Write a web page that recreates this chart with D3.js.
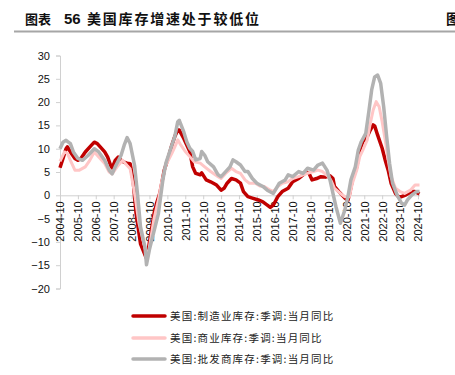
<!DOCTYPE html>
<html>
<head>
<meta charset="utf-8">
<script src="https://cdn.jsdelivr.net/npm/d3@7"></script>
<style>
    body { margin: 0; background: #fff; }
    svg { display: block; }
</style>
</head>
<body>
<script>
// 美国:制造业库存:季调:当月同比
var manuData = [
    ["2004-10", 5.9], ["2004-12", 7.9], ["2005-02", 10], ["2005-03", 10.4], ["2005-05", 9.3],
    ["2005-08", 7.9], ["2005-10", 7.5], ["2005-12", 7.9], ["2006-03", 9.3], ["2006-07", 10.7],
    ["2006-09", 11.4], ["2006-11", 11.1], ["2007-02", 10], ["2007-04", 9.3], ["2007-06", 8.2],
    ["2007-08", 6.4], ["2007-09", 5.9], ["2007-11", 7.5], ["2008-01", 8.2], ["2008-03", 7.5],
    ["2008-05", 7.1], ["2008-07", 6.9], ["2008-09", 6.8], ["2008-11", 3.2], ["2009-01", -3.9],
    ["2009-04", -10.4], ["2009-07", -12.8], ["2009-08", -13.5], ["2009-09", -12], ["2009-11", -8],
    ["2010-01", -4], ["2010-03", -1.5], ["2010-05", 0.5], ["2010-08", 5.5], ["2010-11", 8.5],
    ["2011-01", 10.8], ["2011-03", 12.6], ["2011-05", 14], ["2011-06", 14], ["2011-09", 12.2],
    ["2011-11", 10.8], ["2012-01", 9.4], ["2012-03", 6.1], ["2012-05", 4.7], ["2012-08", 4.4],
    ["2012-09", 4.8], ["2012-12", 3.3], ["2013-03", 2.9], ["2013-07", 2.2], ["2013-10", 1.1],
    ["2013-12", 1.5], ["2014-02", 2.6], ["2014-05", 3.6], ["2014-08", 3.3], ["2014-11", 2.6],
    ["2015-01", 0.8], ["2015-04", -0.3], ["2015-07", -0.6], ["2015-11", -1], ["2016-02", -1.4],
    ["2016-05", -2.1], ["2016-07", -2.6], ["2016-09", -2.1], ["2016-12", -0.3], ["2017-03", 0.8],
    ["2017-07", 1.5], ["2017-10", 2.9], ["2018-02", 3.6], ["2018-05", 4.4], ["2018-07", 4.9],
    ["2018-09", 4.7], ["2018-11", 3.3], ["2019-02", 3.6], ["2019-05", 4], ["2019-08", 3.9],
    ["2019-11", 4.2], ["2020-01", 3.6], ["2020-02", 1.9], ["2020-05", 0.8], ["2020-07", 0.1],
    ["2020-09", -0.6], ["2020-11", -1.1], ["2020-12", 0.1], ["2021-02", 3.3], ["2021-05", 6.1],
    ["2021-07", 9.7], ["2021-09", 11.5], ["2021-12", 12.6], ["2022-02", 14], ["2022-04", 15.1],
    ["2022-05", 14.9], ["2022-07", 12.9], ["2022-10", 10.1], ["2022-12", 7.6], ["2023-02", 5.4],
    ["2023-04", 2.6], ["2023-07", 0.4], ["2023-09", -0.3], ["2023-11", -0.3], ["2024-02", 0.1],
    ["2024-06", 0.8], ["2024-08", 0.8], ["2024-11", 0.3]
]

// 美国:商业库存:季调:当月同比
var tradeData = [
    ["2004-10", 7.3], ["2005-01", 9.3], ["2005-03", 9], ["2005-05", 7.5], ["2005-08", 5.4],
    ["2005-11", 5.4], ["2006-03", 6.1], ["2006-06", 7.5], ["2006-09", 9.3], ["2006-12", 8.2],
    ["2007-04", 6.8], ["2007-07", 5], ["2007-09", 4.6], ["2008-01", 6.4], ["2008-04", 7.5],
    ["2008-07", 6.4], ["2008-09", 5.7], ["2008-12", 0.4], ["2009-03", -6], ["2009-07", -11.4],
    ["2009-09", -12.9], ["2009-11", -9], ["2010-01", -5], ["2010-04", -1], ["2010-06", 2.6],
    ["2010-09", 6.5], ["2011-01", 9], ["2011-04", 11.1], ["2011-05", 11.9], ["2011-07", 10.8],
    ["2011-10", 9.4], ["2012-01", 8.3], ["2012-04", 7.2], ["2012-08", 6.9], ["2012-11", 6.1],
    ["2013-03", 5.1], ["2013-08", 4], ["2013-10", 3.6], ["2014-01", 4.7], ["2014-05", 5.8],
    ["2014-08", 5.1], ["2014-11", 4.7], ["2015-02", 3.3], ["2015-05", 2.6], ["2015-09", 2.6],
    ["2015-12", 2], ["2016-03", 1.9], ["2016-07", 1.1], ["2016-09", 0.8], ["2016-12", 1.9],
    ["2017-03", 2.6], ["2017-07", 2.9], ["2017-10", 3.6], ["2018-02", 4], ["2018-05", 4.4],
    ["2018-08", 4.7], ["2018-12", 5.1], ["2019-03", 5.4], ["2019-06", 5.1], ["2019-10", 4],
    ["2019-12", 3], ["2020-02", 1.5], ["2020-06", 0.4], ["2020-09", -0.3], ["2020-12", -0.3],
    ["2021-02", 2.6], ["2021-05", 5.4], ["2021-07", 8.3], ["2021-09", 9.7], ["2021-12", 11.9],
    ["2022-02", 15.4], ["2022-04", 18.3], ["2022-06", 20.1], ["2022-08", 19], ["2022-10", 15.8],
    ["2022-12", 11.9], ["2023-02", 7.6], ["2023-04", 4], ["2023-07", 1.5], ["2023-10", 0.8],
    ["2024-01", 0.4], ["2024-05", 1.1], ["2024-08", 2.2], ["2024-11", 2.2]
]

// 美国:批发商库存:季调:当月同比
var wholesaleData = [
    ["2004-10", 10], ["2004-12", 11.4], ["2005-02", 11.8], ["2005-05", 11.1], ["2005-07", 9.3],
    ["2005-10", 7.9], ["2006-01", 7.5], ["2006-05", 8.6], ["2006-09", 10], ["2006-12", 9.3],
    ["2007-04", 7.5], ["2007-07", 5.4], ["2007-09", 4.6], ["2007-11", 6.1], ["2008-03", 8.6],
    ["2008-05", 10.7], ["2008-07", 12.4], ["2008-09", 11.1], ["2008-12", 6.4], ["2009-02", 0],
    ["2009-04", -6.8], ["2009-07", -11.1], ["2009-08", -14.9], ["2009-10", -11.6], ["2010-04", -3.9],
    ["2010-07", 3.3], ["2010-09", 6.9], ["2011-01", 10.8], ["2011-03", 12.6], ["2011-05", 15.8],
    ["2011-06", 16.1], ["2011-09", 13.6], ["2011-11", 11.5], ["2012-01", 10.1], ["2012-03", 9.4],
    ["2012-05", 7.6], ["2012-08", 7.9], ["2012-09", 9.4], ["2012-11", 8.6], ["2013-01", 7.2],
    ["2013-05", 6.1], ["2013-08", 4.4], ["2013-10", 4], ["2013-12", 4.7], ["2014-04", 6.1],
    ["2014-06", 7.6], ["2014-08", 7.2], ["2014-11", 6.5], ["2015-02", 5.1], ["2015-04", 5.1],
    ["2015-07", 3.6], ["2015-10", 2.6], ["2016-02", 1.9], ["2016-05", 1.1], ["2016-09", 0.4],
    ["2016-11", 1.5], ["2017-01", 2.6], ["2017-05", 3.3], ["2017-07", 4.4], ["2017-10", 4],
    ["2018-02", 5.1], ["2018-05", 4.7], ["2018-08", 5.8], ["2018-12", 5.4], ["2019-03", 6.5],
    ["2019-06", 6.9], ["2019-09", 5.4], ["2019-11", 3.3], ["2020-01", 0.4], ["2020-03", -2.4],
    ["2020-06", -6], ["2020-09", -3.1], ["2020-11", -0.3], ["2021-01", 3.3], ["2021-04", 6.1],
    ["2021-06", 9.7], ["2021-08", 11.5], ["2021-11", 13.3], ["2022-01", 17.9], ["2022-03", 22.6],
    ["2022-05", 25.4], ["2022-07", 25.8], ["2022-09", 24], ["2022-11", 19], ["2023-01", 12.6],
    ["2023-03", 6.9], ["2023-05", 2.6], ["2023-08", 0.1], ["2023-11", -1.7], ["2024-01", -2.1],
    ["2024-03", -1], ["2024-06", 0.1], ["2024-09", 0.8], ["2024-11", 0.8]
]

var xTickLabels = ["2004-10", "2005-10", "2006-10", "2007-10", "2008-10", "2009-10", "2010-10",
    "2011-10", "2012-10", "2013-10", "2014-10", "2015-10", "2016-10", "2017-10", "2018-10",
    "2019-10", "2020-10", "2021-10", "2022-10", "2023-10", "2024-10"]
var yTicks = [-20, -15, -10, -5, 0, 5, 10, 15, 20, 25, 30]

var seriesNames = ["美国:制造业库存:季调:当月同比", "美国:商业库存:季调:当月同比", "美国:批发商库存:季调:当月同比"]
var seriesColors = ["#c00000", "#ffc6c6", "#b2b2b2"]

var W = 455, H = 375
var parse = d3.timeParse("%Y-%m")
var fmt = d3.timeFormat("%Y-%m")

var svg = d3.select("body").append("svg")
    .attr("width", W)
    .attr("height", H)

// title
var title = svg.append("text")
    .attr("y", 24)
    .attr("font-family", "'Noto Sans CJK SC', sans-serif")
    .attr("font-weight", "bold")
    .attr("fill", "#111")
title.append("tspan").attr("x", 25).attr("font-size", 13).text("图表")
title.append("tspan").attr("x", 64).attr("font-size", 15)
    .attr("font-family", "'Liberation Sans', Arial, sans-serif").text("56")
title.append("tspan").attr("x", 87).attr("font-size", 14)
    .attr("letter-spacing", 1.8).text("美国库存增速处于较低位")
svg.append("text")
    .attr("x", 446).attr("y", 24)
    .attr("font-family", "'Noto Sans CJK SC', sans-serif")
    .attr("font-weight", "bold")
    .attr("font-size", 14)
    .attr("fill", "#111")
    .text("图")
svg.append("line")
    .attr("x1", 14).attr("x2", W)
    .attr("y1", 31.5).attr("y2", 31.5)
    .attr("stroke", "#a6a6a6")
    .attr("stroke-width", 2)

// scales
var x = d3.scaleTime()
    .domain([parse("2004-10"), parse("2024-11")])
    .range([60, 419.5])
var y = d3.scaleLinear()
    .domain([-20, 30])
    .range([288.5, 55.5])

var axisColor = "#d0d0d0"

var yAxis = svg.append("g")
    .attr("transform", "translate(60,0)")
    .call(d3.axisLeft(y).tickValues(yTicks).tickSize(4).tickPadding(6))
yAxis.select(".domain").attr("stroke", axisColor)
yAxis.selectAll(".tick line").attr("stroke", axisColor)
yAxis.selectAll("text")
    .attr("font-family", "'Liberation Sans', Arial, sans-serif")
    .attr("font-size", 11)
    .attr("fill", "#111")

var xAxis = svg.append("g")
    .attr("transform", "translate(0," + y(0) + ")")
    .call(d3.axisBottom(x).tickValues(xTickLabels.map(parse)).tickFormat(fmt).tickSize(4).tickSizeOuter(0))
xAxis.select(".domain").attr("stroke", axisColor)
xAxis.selectAll(".tick line").attr("stroke", axisColor)
xAxis.selectAll("text")
    .attr("transform", "rotate(-90)")
    .attr("x", -6)
    .attr("y", 0)
    .attr("dy", "0.35em")
    .style("text-anchor", "end")
    .attr("font-family", "'Liberation Sans', Arial, sans-serif")
    .attr("font-size", 11)
    .attr("fill", "#111")

// lines
var line = d3.line()
    .x(function (d) { return x(parse(d[0])) })
    .y(function (d) { return y(d[1]) })

var allSeries = [manuData, tradeData, wholesaleData]
var widths = [3.5, 3, 3.5]
allSeries.forEach(function (s, i) {
    svg.append("path")
        .datum(s)
        .attr("d", line)
        .attr("fill", "none")
        .attr("stroke", seriesColors[i])
        .attr("stroke-width", widths[i])
        .attr("stroke-linejoin", "round")
})

// legend
var legend = svg.append("g")
var rowY = [316, 338, 359]
seriesNames.forEach(function (name, i) {
    legend.append("line")
        .attr("x1", 133).attr("x2", 165)
        .attr("y1", rowY[i]).attr("y2", rowY[i])
        .attr("stroke", seriesColors[i])
        .attr("stroke-width", 3.5)
        .attr("stroke-linecap", "round")
    legend.append("text")
        .attr("x", 170)
        .attr("y", rowY[i])
        .attr("dy", "0.36em")
        .attr("font-family", "'Noto Sans CJK SC', sans-serif")
        .attr("font-size", 10.5)
        .attr("letter-spacing", 1.2)
        .attr("fill", "#222")
        .text(name)
})
</script>
</body>
</html>
